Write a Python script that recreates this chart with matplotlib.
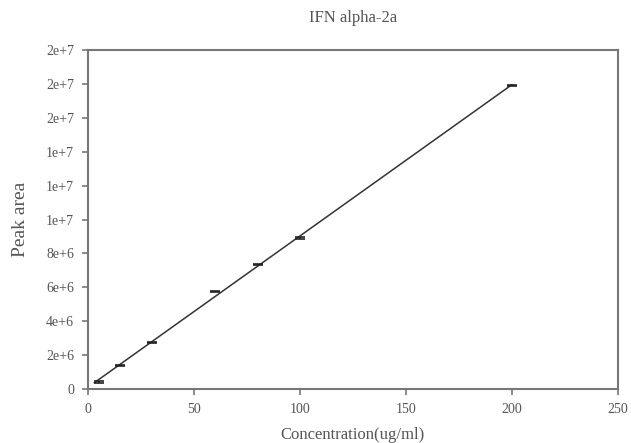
import matplotlib
matplotlib.use("Agg")
import matplotlib.pyplot as plt
import numpy as np
from matplotlib.ticker import FuncFormatter, MultipleLocator

conc = [5, 15, 30, 60, 80, 100, 200]
peak = [0.43e6, 1.38e6, 2.74e6, 5.76e6, 7.34e6, 8.92e6, 17.89e6]
err = [0.05e6, 0.04e6, 0.05e6, 0.05e6, 0.04e6, 0.05e6, 0.04e6]

title = "IFN alpha-2a"
xlabel = "Concentration(ug/ml)"
ylabel = "Peak area"

plt.rcParams['font.family'] = ['Liberation Serif', 'DejaVu Serif']
txt = '#555555'
fig = plt.figure(figsize=(6.31, 4.43), dpi=100)
ax = fig.add_axes([0.1395, 0.1219, 0.8395, 0.7652])

x = np.array(conc, dtype=float)
y = np.array(peak, dtype=float)
m, b = np.polyfit(x, y, 1)
xl = np.array([x.min() - 2, x.max()])
ax.plot(xl, m * xl + b, color='#333333', lw=1.1)
ax.errorbar(x, y, yerr=err, fmt='none', ecolor='#222222', elinewidth=1.2,
            capsize=3.5, capthick=1.2)

ax.set_xlim(0, 250)
ax.set_ylim(0, 2e7)
ax.xaxis.set_major_locator(MultipleLocator(50))
ax.yaxis.set_major_locator(MultipleLocator(2e6))

def fmt(v, pos):
    if v == 0:
        return "0"
    s = f"{v:.0e}"
    return s.replace("e+0", "e+")
ax.yaxis.set_major_formatter(FuncFormatter(fmt))

for s in ax.spines.values():
    s.set_color('#777777')
    s.set_linewidth(1.5)
ax.tick_params(direction='out', length=4, width=1.2, color='#777777',
               labelcolor=txt, labelsize=10, top=False, right=False, pad=6)

ax.set_title(title, fontsize=12, color=txt, pad=20)
ax.set_xlabel(xlabel, fontsize=12, color=txt, labelpad=8)
ax.set_ylabel(ylabel, fontsize=14, color=txt, labelpad=12)

fig.savefig("out.png", dpi=100)
